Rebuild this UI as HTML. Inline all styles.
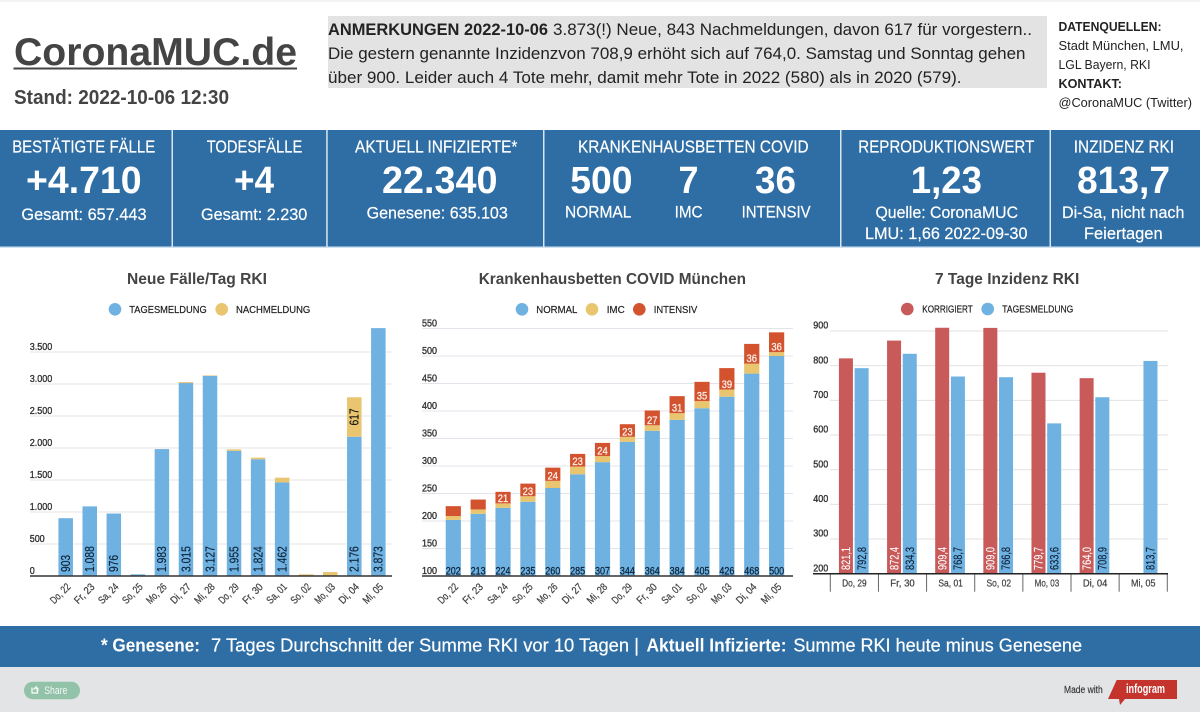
<!DOCTYPE html>
<html lang="de">
<head>
<meta charset="utf-8">
<title>CoronaMUC.de</title>
<style>
html,body{margin:0;padding:0;background:#fff;}
svg{display:block;font-family:"Liberation Sans",Arial,sans-serif;}
.lab{font-size:17.5px;fill:#fff;stroke:#fff;stroke-width:.2;}
.big{font-size:38px;font-weight:700;fill:#fff;}
.sub{font-size:16.5px;fill:#fff;stroke:#fff;stroke-width:.2;}
.note{font-size:17px;fill:#222;}
.src{font-size:13px;fill:#222;}
.ct{font-size:16px;font-weight:700;fill:#444;}
.lg{font-size:10.5px;fill:#222;stroke:#222;stroke-width:.2;}
</style>
</head>
<body>
<svg id="root" xmlns="http://www.w3.org/2000/svg" width="1200" height="712" viewBox="0 0 1200 712">
<rect x="0" y="0" width="1200" height="712" fill="#fff"/>
<rect x="0" y="0" width="1200" height="2" fill="#f3f3f3"/>

<g>
<text x="14" y="65" font-size="39" font-weight="700" fill="#444" textLength="283" lengthAdjust="spacingAndGlyphs">CoronaMUC.de</text>
<rect x="13.5" y="67.5" width="283.5" height="2" fill="#444"/>
<text x="14" y="104" font-size="20" font-weight="700" fill="#444" textLength="215" lengthAdjust="spacingAndGlyphs">Stand: 2022-10-06 12:30</text>
<rect x="328" y="16" width="719" height="72" fill="#e3e3e3"/>
<text x="328" y="35" class="note" font-weight="700" fill="#111" textLength="220" lengthAdjust="spacingAndGlyphs">ANMERKUNGEN 2022-10-06</text>
<text x="553" y="35" class="note" textLength="479" lengthAdjust="spacingAndGlyphs">3.873(!) Neue, 843 Nachmeldungen, davon 617 für vorgestern..</text>
<text x="328" y="59" class="note" textLength="697.5" lengthAdjust="spacingAndGlyphs">Die gestern genannte Inzidenzvon 708,9 erhöht sich auf 764,0. Samstag und Sonntag gehen</text>
<text x="328" y="83" class="note" textLength="633.5" lengthAdjust="spacingAndGlyphs">über 900. Leider auch 4 Tote mehr, damit mehr Tote in 2022 (580) als in 2020 (579).</text>
<text x="1058.5" y="31" class="src" font-weight="700" textLength="103" lengthAdjust="spacingAndGlyphs">DATENQUELLEN:</text>
<text x="1058.5" y="50" class="src" textLength="125" lengthAdjust="spacingAndGlyphs">Stadt München, LMU,</text>
<text x="1058.5" y="69" class="src" textLength="92" lengthAdjust="spacingAndGlyphs">LGL Bayern, RKI</text>
<text x="1058.5" y="88" class="src" font-weight="700" textLength="63.5" lengthAdjust="spacingAndGlyphs">KONTAKT:</text>
<text x="1058.5" y="107" class="src" textLength="133.5" lengthAdjust="spacingAndGlyphs">@CoronaMUC (Twitter)</text>
</g>

<g>
<rect x="0" y="130" width="1200" height="117" fill="#2f6ea5"/>
<rect x="0" y="246.5" width="1200" height="1.5" fill="#cfe2f1"/>
<rect x="171.5" y="130" width="1.5" height="117" fill="#d6e6f3"/>
<rect x="326.2" y="130" width="1.5" height="117" fill="#d6e6f3"/>
<rect x="543" y="130" width="1.5" height="117" fill="#d6e6f3"/>
<rect x="840" y="130" width="1.5" height="117" fill="#d6e6f3"/>
<rect x="1049.5" y="130" width="1.5" height="117" fill="#d6e6f3"/>

<text x="12.2" y="152.7" class="lab" textLength="143" lengthAdjust="spacingAndGlyphs">BESTÄTIGTE FÄLLE</text>
<text x="26" y="193" class="big" textLength="115.6" lengthAdjust="spacingAndGlyphs">+4.710</text>
<text x="21.4" y="220" class="sub" textLength="125.2" lengthAdjust="spacingAndGlyphs">Gesamt: 657.443</text>

<text x="206.7" y="152.7" class="lab" textLength="95.6" lengthAdjust="spacingAndGlyphs">TODESFÄLLE</text>
<text x="234" y="193" class="big" textLength="40" lengthAdjust="spacingAndGlyphs">+4</text>
<text x="201" y="220" class="sub" textLength="106.3" lengthAdjust="spacingAndGlyphs">Gesamt: 2.230</text>

<text x="355" y="152.7" class="lab" textLength="162.4" lengthAdjust="spacingAndGlyphs">AKTUELL INFIZIERTE*</text>
<text x="382" y="193" class="big" textLength="115.5" lengthAdjust="spacingAndGlyphs">22.340</text>
<text x="366.6" y="218.3" class="sub" textLength="141.2" lengthAdjust="spacingAndGlyphs">Genesene: 635.103</text>

<text x="578" y="152.7" class="lab" textLength="230.6" lengthAdjust="spacingAndGlyphs">KRANKENHAUSBETTEN COVID</text>
<text x="570.2" y="193" class="big" textLength="62.3" lengthAdjust="spacingAndGlyphs">500</text>
<text x="565" y="217.3" class="sub" textLength="66.4" lengthAdjust="spacingAndGlyphs">NORMAL</text>
<text x="678.5" y="193" class="big" textLength="20" lengthAdjust="spacingAndGlyphs">7</text>
<text x="674.6" y="217.3" class="sub" textLength="28" lengthAdjust="spacingAndGlyphs">IMC</text>
<text x="755" y="193" class="big" textLength="41" lengthAdjust="spacingAndGlyphs">36</text>
<text x="741.6" y="217.3" class="sub" textLength="69" lengthAdjust="spacingAndGlyphs">INTENSIV</text>

<text x="858.3" y="152.7" class="lab" textLength="176" lengthAdjust="spacingAndGlyphs">REPRODUKTIONSWERT</text>
<text x="910.8" y="193" class="big" textLength="71.2" lengthAdjust="spacingAndGlyphs">1,23</text>
<text x="875.5" y="218" class="sub" textLength="142.5" lengthAdjust="spacingAndGlyphs">Quelle: CoronaMUC</text>
<text x="865" y="239" class="sub" textLength="162.5" lengthAdjust="spacingAndGlyphs">LMU: 1,66 2022-09-30</text>

<text x="1073.8" y="152.7" class="lab" textLength="100.2" lengthAdjust="spacingAndGlyphs">INZIDENZ RKI</text>
<text x="1077" y="193" class="big" textLength="93" lengthAdjust="spacingAndGlyphs">813,7</text>
<text x="1062" y="218" class="sub" textLength="122.4" lengthAdjust="spacingAndGlyphs">Di-Sa, nicht nach</text>
<text x="1084" y="239" class="sub" textLength="78.6" lengthAdjust="spacingAndGlyphs">Feiertagen</text>
</g>

<g id="chart-cases">
<text x="127" y="284" class="ct" textLength="140" lengthAdjust="spacingAndGlyphs">Neue Fälle/Tag RKI</text>
<circle cx="115" cy="309.3" r="6.3" fill="#6fb1e1"/>
<text x="129.3" y="313" class="lg" textLength="77.4" lengthAdjust="spacingAndGlyphs">TAGESMELDUNG</text>
<circle cx="221.7" cy="309.3" r="6.3" fill="#e8c56e"/>
<text x="236" y="313" class="lg" textLength="74.3" lengthAdjust="spacingAndGlyphs">NACHMELDUNG</text>
</g>

<g id="chart-beds">
<text x="478.7" y="284" class="ct" textLength="267.3" lengthAdjust="spacingAndGlyphs">Krankenhausbetten COVID München</text>
<circle cx="522" cy="309.3" r="6.3" fill="#6fb1e1"/>
<text x="536.3" y="313" class="lg" textLength="41" lengthAdjust="spacingAndGlyphs">NORMAL</text>
<circle cx="592" cy="309.3" r="6.3" fill="#e8c56e"/>
<text x="606.7" y="313" class="lg" textLength="18" lengthAdjust="spacingAndGlyphs">IMC</text>
<circle cx="639.3" cy="309.3" r="6.3" fill="#d4532f"/>
<text x="653.7" y="313" class="lg" textLength="43.6" lengthAdjust="spacingAndGlyphs">INTENSIV</text>
</g>

<g id="chart-incidence">
<text x="935" y="284" class="ct" textLength="144.3" lengthAdjust="spacingAndGlyphs">7 Tage Inzidenz RKI</text>
<circle cx="907.3" cy="309" r="6.3" fill="#c85a5a"/>
<text x="922.3" y="312.5" class="lg" textLength="50.4" lengthAdjust="spacingAndGlyphs">KORRIGIERT</text>
<circle cx="987.7" cy="309" r="6.3" fill="#6fb1e1"/>
<text x="1002.3" y="312.5" class="lg" textLength="71" lengthAdjust="spacingAndGlyphs">TAGESMELDUNG</text>
</g>

<g>
<rect x="0" y="626" width="1200" height="41" fill="#2f6ea5"/>
<text x="101" y="651.5" font-size="18" font-weight="700" fill="#fff" textLength="99" lengthAdjust="spacingAndGlyphs">* Genesene:</text>
<text x="211" y="651.5" font-size="18" fill="#fff" stroke="#fff" stroke-width=".2" textLength="428" lengthAdjust="spacingAndGlyphs">7 Tages Durchschnitt der Summe RKI vor 10 Tagen |</text>
<text x="646.5" y="651.5" font-size="18" font-weight="700" fill="#fff" textLength="140" lengthAdjust="spacingAndGlyphs">Aktuell Infizierte:</text>
<text x="793.4" y="651.5" font-size="18" fill="#fff" stroke="#fff" stroke-width=".2" textLength="288.6" lengthAdjust="spacingAndGlyphs">Summe RKI heute minus Genesene</text>
</g>

<g>
<rect x="0" y="667" width="1200" height="45" fill="#e3e4e5"/>
<rect x="24" y="681.7" width="56" height="17.5" rx="8.75" fill="#92c3a8"/>
<path d="M32 687.5v5.5h5.5v-2.5M33.5 689.5l2.5-2.5v1.2h1.8v2h-1.8" fill="none" stroke="#fff" stroke-width="1.2"/>
<text x="44.3" y="694" font-size="11" fill="#f4f8f5" textLength="23" lengthAdjust="spacingAndGlyphs">Share</text>
<text x="1064" y="693" font-size="10" fill="#333" stroke="#333" stroke-width=".15" textLength="38.7" lengthAdjust="spacingAndGlyphs">Made with</text>
<path d="M1108 699L1116.7 680H1177V699H1125L1120 705L1119 699Z" fill="#c4332c"/>
<text x="1126" y="693" font-size="13" font-weight="700" fill="#fff" textLength="39" lengthAdjust="spacingAndGlyphs">infogram</text>
</g>
</svg>

<script>
/* ---- Neue Fälle/Tag RKI ---- */
var casesCategories = ["Do, 22","Fr, 23","Sa, 24","So, 25","Mo, 26","Di, 27","Mi, 28","Do, 29","Fr, 30","Sa, 01","So, 02","Mo, 03","Di, 04","Mi, 05"];
var casesTagesmeldung = [903,1088,976,26,1983,3015,3127,1955,1824,1462,0,0,2176,3873];
var casesNachmeldung = [0,0,0,0,0,15,8,24,25,74,26,62,617,0];
var casesTicks = [0,500,1000,1500,2000,2500,3000,3500];

/* ---- Krankenhausbetten COVID München ---- */
var bedsCategories = ["Do, 22","Fr, 23","Sa, 24","So, 25","Mo, 26","Di, 27","Mi, 28","Do, 29","Fr, 30","Sa, 01","So, 02","Mo, 03","Di, 04","Mi, 05"];
var bedsNormal = [202,213,224,235,260,285,307,344,364,384,405,426,468,500];
var bedsImc = [7,8,8,10,13,14,11,9,10,12,13,13,18,7];
var bedsIntensiv = [18,18,21,23,24,23,24,23,27,31,35,39,36,36];
var bedsTicks = [100,150,200,250,300,350,400,450,500,550];

/* ---- 7 Tage Inzidenz RKI ---- */
var incCategories = ["Do, 29","Fr, 30","Sa, 01","So, 02","Mo, 03","Di, 04","Mi, 05"];
var incKorrigiert = [821.1,872.4,909.4,909.0,779.7,764.0,null];
var incTagesmeldung = [792.8,834.3,768.7,766.8,633.6,708.9,813.7];
var incTicks = [200,300,400,500,600,700,800,900];

var NS = "http://www.w3.org/2000/svg";
function mk(tag, attrs, parent) {
  var e = document.createElementNS(NS, tag);
  for (var k in attrs) { e.setAttribute(k, attrs[k]); }
  parent.appendChild(e);
  return e;
}
function thousands(v) { return String(Math.round(v)).replace(/\B(?=(\d{3})+(?!\d))/g, "."); }
function decimal(v) { return v.toFixed(1).replace(".", ","); }
function textLen(s, dw, sw) {
  var n = 0;
  for (var i = 0; i < s.length; i++) { n += /\d/.test(s[i]) ? dw : sw; }
  return n.toFixed(1);
}
var VALUE_DARK = "#0b2238";
var TICK_COLOR = "#333";
var CAT_COLOR = "#444";

/* Chart 1 */
(function () {
  var g = document.getElementById("chart-cases");
  var x0 = 65.7, step = 24.05, bw = 14.5, base = 576, perUnit = 32 / 500;
  function xS(i) { return x0 + i * step; }
  function yS(v) { return base - v * perUnit; }
  casesTicks.forEach(function (t) {
    if (t > 0) {
      var ln = mk("line", {x1: 30, x2: 392, y1: yS(t), y2: yS(t), stroke: "#e4e4e4", "stroke-width": 1}, g);
      
      
    }
    var s = thousands(t);
    var lb = mk("text", {x: 29.7, y: yS(t) - 2, "font-size": 10, fill: TICK_COLOR, stroke: TICK_COLOR, "stroke-width": 0.35, textLength: textLen(s, 5, 2.6), lengthAdjust: "spacingAndGlyphs"}, g);
    lb.textContent = s;
    
    
  });
  casesCategories.forEach(function (c, i) {
    var a = casesTagesmeldung[i], b = casesNachmeldung[i];
    if (a > 0) {
      var r1 = mk("rect", {x: xS(i) - bw / 2, y: yS(a), width: bw, height: a * perUnit, fill: "#6fb1e1"}, g);
      
      
    }
    if (b > 0) {
      var r2 = mk("rect", {x: xS(i) - bw / 2, y: yS(a + b), width: bw, height: b * perUnit, fill: "#e8c56e"}, g);
      
      
    }
    if (a >= 500) {
      var s = thousands(a), tx = xS(i) + 4.3, ty = 572;
      var v = mk("text", {x: tx, y: ty, "font-size": 12.5, fill: VALUE_DARK, stroke: VALUE_DARK, "stroke-width": 0.15, transform: "rotate(-90 " + tx + " " + ty + ")", textLength: textLen(s, 5.7, 3), lengthAdjust: "spacingAndGlyphs"}, g);
      v.textContent = s;
      
      
    }
    if (b >= 300) {
      var s2 = thousands(b), tx2 = xS(i) + 4.3, ty2 = yS(a + b / 2);
      var v2 = mk("text", {x: tx2, y: ty2, "font-size": 12.5, fill: "#111", stroke: "#111", "stroke-width": 0.15, "text-anchor": "middle", transform: "rotate(-90 " + tx2 + " " + ty2 + ")", textLength: textLen(s2, 5.7, 3), lengthAdjust: "spacingAndGlyphs"}, g);
      v2.textContent = s2;
      
      
    }
    var lx = xS(i) + 5.5, ly = 587.5;
    var cl = mk("text", {x: lx, y: ly, "font-size": 10.5, fill: CAT_COLOR, stroke: CAT_COLOR, "stroke-width": 0.25, "text-anchor": "end", transform: "rotate(-45 " + lx + " " + ly + ")", textLength: "24", lengthAdjust: "spacingAndGlyphs"}, g);
    cl.textContent = c;
    
    
  });
  var ax = mk("line", {x1: 30, x2: 392, y1: base, y2: base, stroke: "#333", "stroke-width": 1.5}, g);
  
  
})();

/* Chart 2 */
(function () {
  var g = document.getElementById("chart-beds");
  var x0 = 453.3, step = 24.87, bw = 15.2, base = 576, perUnit = 27.5 / 50, yMin = 100;
  function xS(i) { return x0 + i * step; }
  function yS(v) { return base - (v - yMin) * perUnit; }
  bedsTicks.forEach(function (t) {
    if (t > yMin) {
      var ln = mk("line", {x1: 422, x2: 793, y1: yS(t), y2: yS(t), stroke: "#e3e3ec", "stroke-width": 1}, g);
      
      
    }
    var s = String(t);
    var lb = mk("text", {x: 422, y: yS(t) - 2, "font-size": 10, fill: TICK_COLOR, stroke: TICK_COLOR, "stroke-width": 0.35, textLength: "15", lengthAdjust: "spacingAndGlyphs"}, g);
    lb.textContent = s;
    
    
  });
  bedsCategories.forEach(function (c, i) {
    var n = bedsNormal[i], m = bedsImc[i], t = bedsIntensiv[i];
    var r1 = mk("rect", {x: xS(i) - bw / 2, y: yS(n), width: bw, height: (n - yMin) * perUnit, fill: "#6fb1e1"}, g);
    
    
    var r2 = mk("rect", {x: xS(i) - bw / 2, y: yS(n + m), width: bw, height: m * perUnit, fill: "#e8c56e"}, g);
    
    
    var r3 = mk("rect", {x: xS(i) - bw / 2, y: yS(n + m + t), width: bw, height: t * perUnit, fill: "#d4532f"}, g);
    
    
    var v = mk("text", {x: xS(i), y: 574.5, "font-size": 11, fill: VALUE_DARK, stroke: VALUE_DARK, "stroke-width": 0.25, "text-anchor": "middle", textLength: "15", lengthAdjust: "spacingAndGlyphs"}, g);
    v.textContent = String(n);
    
    
    if (t >= 20) {
      var v2 = mk("text", {x: xS(i), y: yS(n + m) - 1.5, "font-size": 11, fill: "#fbeee8", stroke: "#fbeee8", "stroke-width": 0.3, "text-anchor": "middle", textLength: "10.5", lengthAdjust: "spacingAndGlyphs"}, g);
      v2.textContent = String(t);
      
      
    }
    var lx = xS(i) + 5.5, ly = 587.5;
    var cl = mk("text", {x: lx, y: ly, "font-size": 10.5, fill: CAT_COLOR, stroke: CAT_COLOR, "stroke-width": 0.25, "text-anchor": "end", transform: "rotate(-45 " + lx + " " + ly + ")", textLength: "24", lengthAdjust: "spacingAndGlyphs"}, g);
    cl.textContent = c;
    
    
  });
  var ax = mk("line", {x1: 422, x2: 793, y1: base, y2: base, stroke: "#333", "stroke-width": 1.5}, g);
  
  
})();

/* Chart 3 */
(function () {
  var g = document.getElementById("chart-incidence");
  var xL = 830.3, band = 48.14, bw = 14, gap = 1.7, base = 573.7, perUnit = 34.67 / 100, yMin = 200;
  function cx(i) { return xL + (i + 0.5) * band; }
  function yS(v) { return base - (v - yMin) * perUnit; }
  incTicks.forEach(function (t) {
    if (t > yMin) {
      var ln = mk("line", {x1: 830, x2: 1168, y1: yS(t), y2: yS(t), stroke: "#e2e2e2", "stroke-width": 1}, g);
      
      
    }
    var lb = mk("text", {x: 813.3, y: yS(t) - 2.3, "font-size": 10, fill: TICK_COLOR, stroke: TICK_COLOR, "stroke-width": 0.35, textLength: "15", lengthAdjust: "spacingAndGlyphs"}, g);
    lb.textContent = String(t);
    
    
  });
  incCategories.forEach(function (c, i) {
    var a = incKorrigiert[i], b = incTagesmeldung[i], xc = cx(i) - 0.6;
    if (a !== null) {
      var r1 = mk("rect", {x: xc - bw - gap / 2, y: yS(a), width: bw, height: (a - yMin) * perUnit, fill: "#c85a5a"}, g);
      
      
      var s = decimal(a), tx = xc - bw / 2 - gap / 2 + 4.2, ty = 570;
      var v = mk("text", {x: tx, y: ty, "font-size": 12, fill: "#fff", stroke: "#fff", "stroke-width": 0.15, transform: "rotate(-90 " + tx + " " + ty + ")", textLength: "23", lengthAdjust: "spacingAndGlyphs"}, g);
      v.textContent = s;
      
      
    }
    if (b !== null) {
      var r2 = mk("rect", {x: xc + gap / 2, y: yS(b), width: bw, height: (b - yMin) * perUnit, fill: "#6fb1e1"}, g);
      
      
      var s2 = decimal(b), tx2 = xc + bw / 2 + gap / 2 + 4.2, ty2 = 570;
      var v2 = mk("text", {x: tx2, y: ty2, "font-size": 12, fill: VALUE_DARK, stroke: VALUE_DARK, "stroke-width": 0.15, transform: "rotate(-90 " + tx2 + " " + ty2 + ")", textLength: "23", lengthAdjust: "spacingAndGlyphs"}, g);
      v2.textContent = s2;
      
      
    }
    var cl = mk("text", {x: cx(i), y: 586.5, "font-size": 10.5, fill: CAT_COLOR, stroke: CAT_COLOR, "stroke-width": 0.25, "text-anchor": "middle", textLength: "24.5", lengthAdjust: "spacingAndGlyphs"}, g);
    cl.textContent = c;
    
    
  });
  for (var k = 0; k <= incCategories.length; k++) {
    var tk = mk("line", {x1: xL + k * band, x2: xL + k * band, y1: base, y2: 591.7, stroke: "#666", "stroke-width": 1}, g);
    
    
  }
  var ax = mk("line", {x1: 813, x2: 1168, y1: base, y2: base, stroke: "#222", "stroke-width": 1.5}, g);
  
  
})();
</script>
</body>
</html>
